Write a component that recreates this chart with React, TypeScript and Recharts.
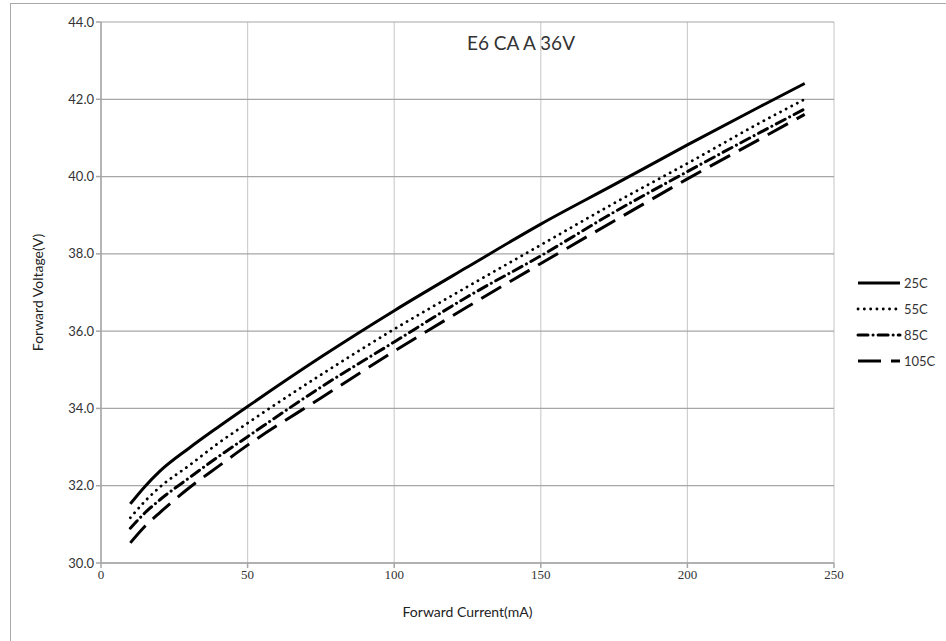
import React from "react";
import {
  CartesianGrid,
  Line,
  LineChart,
  XAxis,
  YAxis,
} from "recharts";

const current = [10, 15, 20, 30, 40, 50, 75, 100, 125, 150, 175, 200, 225, 240];
const v25 = [31.53, 31.98, 32.37, 32.97, 33.52, 34.05, 35.33, 36.53, 37.66, 38.77, 39.79, 40.82, 41.82, 42.41];
const v55 = [31.17, 31.6, 31.96, 32.52, 33.1, 33.62, 34.87, 36.05, 37.15, 38.23, 39.31, 40.34, 41.4, 42.0];
const v85 = [30.9, 31.3, 31.63, 32.2, 32.75, 33.27, 34.55, 35.72, 36.89, 37.95, 39.08, 40.13, 41.15, 41.75];
const v105 = [30.52, 30.95, 31.3, 31.94, 32.5, 33.05, 34.27, 35.48, 36.63, 37.75, 38.85, 39.94, 40.98, 41.61];

const xTicks = [0, 50, 100, 150, 200, 250];
const yTicks = [30, 32, 34, 36, 38, 40, 42, 44];

const data = current.map((c, i) => ({
  current: c,
  t25: v25[i],
  t55: v55[i],
  t85: v85[i],
  t105: v105[i],
}));

const series = [
  { key: "t25", name: "25C", dash: undefined as string | undefined, width: 3, cap: "butt" },
  { key: "t55", name: "55C", dash: "0.1 6.2", width: 2.8, cap: "round" },
  { key: "t85", name: "85C", dash: "10 5 0.1 5", width: 3, cap: "round" },
  { key: "t105", name: "105C", dash: "23 10", width: 3, cap: "butt" },
];

const font = "Lato, 'Open Sans', sans-serif";

function LegendBox() {
  return (
    <div
      style={{
        position: "absolute",
        left: 853,
        top: 270,
        fontFamily: font,
        fontSize: 13,
        color: "#333",
      }}
    >
      {series.map((s) => (
        <div key={s.key} style={{ display: "flex", alignItems: "center", height: 26 }}>
          <svg width={50} height={10}>
            <line
              x1={5}
              y1={5}
              x2={47}
              y2={5}
              stroke="#000"
              strokeWidth={s.width}
              strokeDasharray={s.dash}
              strokeLinecap={s.cap as "butt" | "round"}
            />
          </svg>
          <span style={{ marginLeft: 1 }}>{s.name}</span>
        </div>
      ))}
    </div>
  );
}

export default function App() {
  return (
    <div style={{ position: "absolute", left: 0, top: 0, width: 946, height: 641, background: "#fff", overflow: "hidden" }}>
      <div
        style={{
          position: "absolute",
          left: 10,
          top: 3,
          width: 940,
          height: 645,
          border: "1.5px solid #aaa",
        }}
      />
      <div
        style={{
          position: "absolute",
          left: 0,
          top: 31,
          width: 1042,
          textAlign: "center",
          fontFamily: font,
          fontSize: 19,
          color: "#333",
        }}
      >
        E6 CA A 36V
      </div>
      <LineChart
        width={946}
        height={641}
        data={data}
        margin={{ top: 22, right: 112, bottom: 48, left: 41 }}
        style={{ position: "absolute", left: 0, top: 0 }}
      >
        <CartesianGrid horizontal={false} stroke="#cfcfcf" strokeWidth={1.2} />
        <CartesianGrid vertical={false} stroke="#a6a6a6" strokeWidth={1.2} />
        <XAxis
          dataKey="current"
          type="number"
          domain={[0, 250]}
          ticks={xTicks}
          height={30}
          stroke="#a6a6a6"
          strokeWidth={1.5}
          tickSize={5}
          tick={{ fill: "#333", fontSize: 13, fontFamily: "'Liberation Serif', serif" }}
          label={{
            value: "Forward Current(mA)",
            position: "insideBottom",
            offset: -24,
            fill: "#222",
            fontSize: 14,
            fontFamily: font,
          }}
        />
        <YAxis
          type="number"
          domain={[30, 44]}
          ticks={yTicks}
          width={60}
          stroke="#a6a6a6"
          strokeWidth={1.5}
          tickSize={5}
          tickFormatter={(v: number) => v.toFixed(1)}
          tick={{ fill: "#333", fontSize: 13, fontFamily: font }}
          label={{
            value: "Forward Voltage(V)",
            angle: -90,
            position: "insideLeft",
            offset: -3,
            style: { textAnchor: "middle" },
            fill: "#222",
            fontSize: 14,
            fontFamily: font,
          }}
        />
        {series.map((s) => (
          <Line
            key={s.key}
            dataKey={s.key}
            name={s.name}
            type="monotone"
            stroke="#000"
            strokeWidth={s.width}
            strokeDasharray={s.dash}
            strokeLinecap={s.cap as "butt" | "round"}
            dot={false}
            activeDot={false}
            isAnimationActive={false}
          />
        ))}
      </LineChart>
      <LegendBox />
    </div>
  );
}
